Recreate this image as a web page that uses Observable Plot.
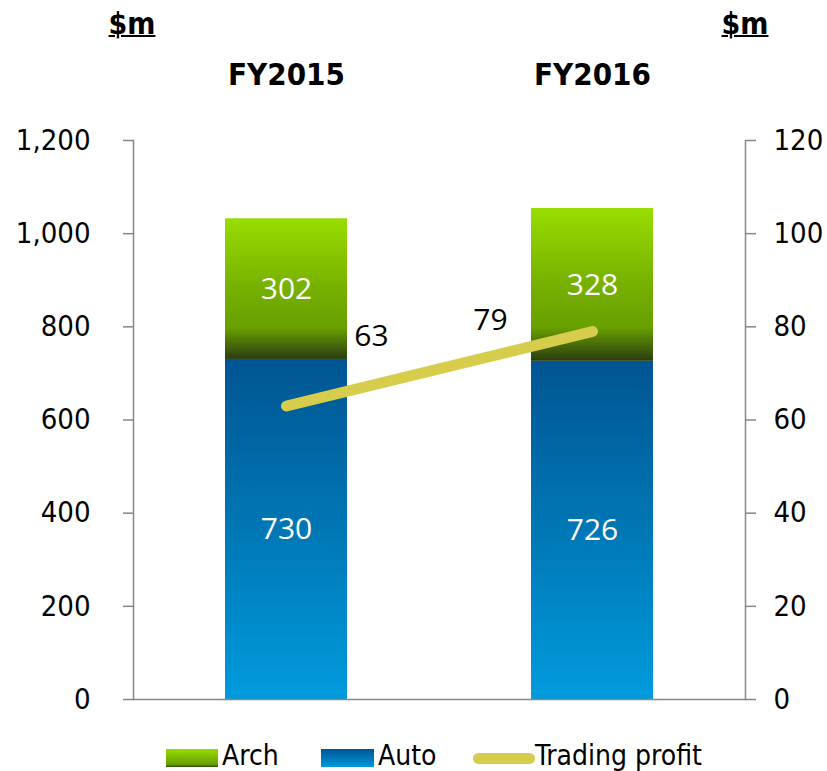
<!DOCTYPE html>
<html>
<head>
<meta charset="utf-8">
<script src="https://cdn.jsdelivr.net/npm/d3@7"></script>
<script src="https://cdn.jsdelivr.net/npm/@observablehq/plot@0.6"></script>
<style>
  html, body { margin: 0; padding: 0; background: #fff; }
  #wrap { position: relative; width: 827px; height: 771px; overflow: hidden; font-family: "DejaVu Sans Condensed", "DejaVu Sans", sans-serif; }
  .unit { position: absolute; top: 6px; font-size: 30px; font-weight: bold; text-decoration: underline; text-decoration-thickness: 2px; transform: translateX(-50%); }
  .leg { position: absolute; font-size: 28px; color: #000; line-height: 1; }
  .sw { position: absolute; }
</style>
</head>
<body>
<div id="wrap">
  <div class="unit" style="left:132px">$m</div>
  <div class="unit" style="left:745px">$m</div>
  <div id="chart" style="position:absolute;left:0;top:0"></div>
  <div class="sw" style="left:166px;top:749px;width:52px;height:18px;background:linear-gradient(#99dd00,#66a000 85%,#2e4a10)"></div>
  <div class="leg" style="left:222px;top:742px">Arch</div>
  <div class="sw" style="left:321px;top:749px;width:53px;height:18px;background:linear-gradient(#005592,#0099dd)"></div>
  <div class="leg" style="left:378px;top:742px">Auto</div>
  <div class="sw" style="left:473px;top:753px;width:62px;height:11px;border-radius:6px;background:#d6cd4c"></div>
  <div class="leg" style="left:535px;top:742px">Trading profit</div>
</div>
<script>
// Data
const years = ["FY2015", "FY2016"];
const autoValues = [730, 726];
const archValues = [302, 328];
const profitValues = [63, 79];
const leftTicks = [0, 200, 400, 600, 800, 1000, 1200];
const rightTicks = [0, 20, 40, 60, 80, 100, 120];

const segments = [];
years.forEach((y, i) => {
  segments.push({year: y, series: "Auto", value: autoValues[i]});
  segments.push({year: y, series: "Arch", value: archValues[i]});
});
const profitRows = years.map((y, i) => ({year: y, profit: profitValues[i]}));

const defs = () => {
  const ns = "http://www.w3.org/2000/svg";
  const d = document.createElementNS(ns, "defs");
  d.innerHTML = `
    <linearGradient id="archGrad" x1="0" y1="0" x2="0" y2="1">
      <stop offset="0" stop-color="#99dd00"/>
      <stop offset="0.5" stop-color="#76b000"/>
      <stop offset="0.78" stop-color="#68a000"/>
      <stop offset="1" stop-color="#2a3c10"/>
    </linearGradient>
    <linearGradient id="autoGrad" x1="0" y1="0" x2="0" y2="1">
      <stop offset="0" stop-color="#005592"/>
      <stop offset="0.5" stop-color="#0077b5"/>
      <stop offset="1" stop-color="#009bdd"/>
    </linearGradient>`;
  return d;
};

const grey = "#878787";
const chart = Plot.plot({
  width: 827,
  height: 730,
  marginTop: 140,
  marginBottom: 31,
  marginLeft: 133,
  marginRight: 82,
  style: {fontFamily: "'DejaVu Sans Condensed', 'DejaVu Sans', sans-serif", fontSize: "29px", color: "#000", background: "transparent"},
  x: {type: "band", domain: years, paddingInner: 0.6, paddingOuter: 0.3, axis: null},
  y: {domain: [0, 1200], axis: null},
  color: {domain: ["Auto", "Arch"], range: ["url(#autoGrad)", "url(#archGrad)"]},
  marks: [
    defs,
    Plot.barY(segments, {x: "year", y: "value", fill: "series"}),
    Plot.text(segments, Plot.stackY({x: "year", y: "value", text: d => String(d.value), fill: "white", fontFamily: "'Open Sans', sans-serif", fontSize: 30})),
    Plot.ruleY([0], {stroke: grey, strokeWidth: 1.5}),
    Plot.frame({anchor: "left", stroke: grey, strokeWidth: 1.5}),
    Plot.frame({anchor: "right", stroke: grey, strokeWidth: 1.5}),
    Plot.axisY({anchor: "left", ticks: leftTicks, tickFormat: d3.format(","), tickSize: 10, tickPadding: 33, stroke: grey, strokeWidth: 1.5, label: null, fontSize: 29}),
    Plot.axisY({anchor: "right", ticks: rightTicks.map(v => v * 10), tickFormat: v => String(v / 10), tickSize: 10, tickPadding: 18, stroke: grey, strokeWidth: 1.5, label: null, fontSize: 29}),
    Plot.line(profitRows, {x: "year", y: d => d.profit * 10, stroke: "#d6cd4c", strokeWidth: 11, strokeLinecap: "round"}),
    Plot.text(profitRows.slice(0, 1), {x: "year", y: d => d.profit * 10, text: d => String(d.profit), dx: 85, dy: -70, fontFamily: "'Open Sans', sans-serif", fontSize: 30, fill: "#000"}),
    Plot.text(profitRows.slice(1, 2), {x: "year", y: d => d.profit * 10, text: d => String(d.profit), dx: -102, dy: -11, fontFamily: "'Open Sans', sans-serif", fontSize: 30, fill: "#000"}),
    Plot.text(years, {x: d => d, text: d => d, frameAnchor: "top", dy: -65, lineAnchor: "middle", fontWeight: "bold", fontSize: 31, fill: "#000"})
  ]
});
document.getElementById("chart").appendChild(chart);
// FY labels sit above the frame; Plot places frameAnchor top text at marginTop, so nudge via dy
</script>
</body>
</html>
